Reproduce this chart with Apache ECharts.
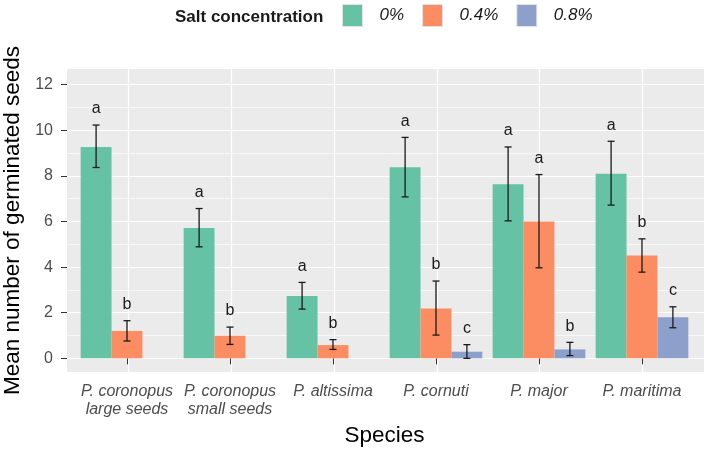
<!DOCTYPE html>
<html>
<head>
<meta charset="utf-8">
<title>Germinated seeds</title>
<script src="https://cdn.jsdelivr.net/npm/echarts@6/dist/echarts.min.js"></script>
<style>
  html, body { margin: 0; padding: 0; background: #fff; }
  #chart { width: 709px; height: 452px; }
</style>
</head>
<body>
<div id="chart"></div>
<script>
// data
var species = ['P. coronopus\nlarge seeds', 'P. coronopus\nsmall seeds', 'P. altissima', 'P. cornuti', 'P. major', 'P. maritima'];
var groups = ['0%', '0.4%', '0.8%'];
var colors = ['#66c2a5', '#fc8d62', '#8da0cb'];

var mean0 = [9.27, 5.72, 2.73, 8.38, 7.63, 8.10];
var mean4 = [1.20, 0.99, 0.58, 2.19, 6.00, 4.51];
var mean8 = [null, null, null, 0.29, 0.39, 1.80];

var low0 = [8.37, 4.89, 2.16, 7.08, 6.03, 6.72];
var high0 = [10.23, 6.57, 3.33, 9.69, 9.27, 9.52];
var low4 = [0.76, 0.61, 0.39, 1.02, 3.97, 3.78];
var high4 = [1.65, 1.37, 0.82, 3.39, 8.06, 5.24];
var low8 = [null, null, null, 0.00, 0.12, 1.34];
var high8 = [null, null, null, 0.60, 0.70, 2.26];

var letters0 = ['a', 'a', 'a', 'a', 'a', 'a'];
var letters4 = ['b', 'b', 'b', 'b', 'a', 'b'];
var letters8 = ['', '', '', 'c', 'b', 'c'];

var yTicks = [0, 2, 4, 6, 8, 10, 12];
var yMinor = [1, 3, 5, 7, 9, 11];
var xCenters = [1, 2, 3, 4, 5, 6];

var font = '"Liberation Sans", Arial, sans-serif';

function barSeries(k, vals) {
    return {
        name: groups[k],
        type: 'bar',
        xAxisIndex: 1,
        yAxisIndex: 2,
        barGap: '0%',
        barCategoryGap: '10%',
        itemStyle: { color: colors[k] },
        data: vals.map(function (v) { return v == null ? '-' : v; })
    };
}

function errorSeries(k, low, high, letters) {
    var items = [];
    for (var i = 0; i < low.length; i++) {
        if (high[i] != null) items.push([i, low[i], high[i]]);
    }
    return {
        type: 'custom',
        xAxisIndex: 1,
        yAxisIndex: 2,
        z: 10,
        silent: true,
        encode: { x: 0, y: [1, 2] },
        data: items,
        renderItem: function (params, api) {
            var i = api.value(0);
            var lo = api.coord([i, api.value(1)]);
            var hi = api.coord([i, api.value(2)]);
            var band = api.size([1, 0])[0];
            var bw = band * 0.9 / 3;
            var x = lo[0] + (k - 1) * bw;
            var cap = 3.5;
            var st = { stroke: '#1a1a1a', lineWidth: 1.3 };
            return {
                type: 'group',
                children: [
                    { type: 'line', shape: { x1: x, y1: lo[1], x2: x, y2: hi[1] }, style: st },
                    { type: 'line', shape: { x1: x - cap, y1: lo[1], x2: x + cap, y2: lo[1] }, style: st },
                    { type: 'line', shape: { x1: x - cap, y1: hi[1], x2: x + cap, y2: hi[1] }, style: st },
                    { type: 'text', style: { text: letters[i], x: x, y: hi[1] - 16, align: 'center', verticalAlign: 'middle',
                        fill: '#1a1a1a', font: '16px ' + font } }
                ]
            };
        }
    };
}

var chart = echarts.init(document.getElementById('chart'));

var option = {
    backgroundColor: '#ffffff',
    animation: false,
    textStyle: { fontFamily: font },
    title: {
        text: 'Salt concentration',
        left: 170,
        top: 4,
        textStyle: { fontSize: 17, fontWeight: 'bold', color: '#1a1a1a', fontFamily: font }
    },
    legend: {
        data: groups,
        left: 337,
        top: -1,
        icon: 'rect',
        itemWidth: 20,
        itemHeight: 22,
        itemGap: 18,
        itemStyle: { borderColor: '#e3e3e3', borderWidth: 1 },
        textStyle: { fontSize: 17, fontStyle: 'italic', color: '#1a1a1a', padding: [0, 0, 0, 12], fontFamily: font }
    },
    grid: [
        { left: 67, right: 5, top: 69, bottom: 80, show: true, backgroundColor: '#ebebeb', borderWidth: 0,
          containLabel: false, outerBoundsMode: 'none' },
        { left: 75.5, right: 15.5, top: 69, bottom: 80, containLabel: false, outerBoundsMode: 'none' }
    ],
    xAxis: [
        {
            gridIndex: 0, type: 'value', min: 0.4, max: 6.6,
            axisLine: { show: false },
            axisLabel: { show: false },
            axisTick: { show: false, customValues: xCenters },
            splitLine: { show: true, lineStyle: { color: '#ffffff', width: 1.2 } }
        },
        {
            gridIndex: 1, type: 'category', data: species,
            axisLine: { show: false },
            axisTick: { show: true, alignWithLabel: true, length: 6, lineStyle: { color: '#333333', width: 1 } },
            axisLabel: { fontSize: 16, fontStyle: 'italic', color: '#4d4d4d', lineHeight: 18, margin: 11, interval: 0 },
            splitLine: { show: false },
            name: 'Species',
            nameLocation: 'middle',
            nameGap: 52,
            nameTextStyle: { fontSize: 22.5, color: '#000000' }
        }
    ],
    yAxis: [
        {
            gridIndex: 0, type: 'value', min: -0.6, max: 12.69,
            axisLine: { show: false },
            axisTick: { show: true, length: 6, customValues: yTicks, lineStyle: { color: '#333333' } },
            axisLabel: { customValues: yTicks, fontSize: 16, color: '#4d4d4d', margin: 14 },
            splitLine: { show: true, lineStyle: { color: '#ffffff', width: 1.2 } },
            name: 'Mean number of germinated seeds',
            nameLocation: 'middle',
            nameRotate: 90,
            nameGap: 35,
            nameTextStyle: { fontSize: 22.5, color: '#000000' }
        },
        {
            gridIndex: 0, type: 'value', min: -0.6, max: 12.69, position: 'left',
            axisLine: { show: false },
            axisLabel: { show: false },
            axisTick: { show: false, customValues: yMinor },
            splitLine: { show: true, lineStyle: { color: '#ffffff', width: 0.6 } }
        },
        {
            gridIndex: 1, type: 'value', min: -0.6, max: 12.69, show: false
        }
    ],
    series: [
        barSeries(0, mean0),
        barSeries(1, mean4),
        barSeries(2, mean8),
        errorSeries(0, low0, high0, letters0),
        errorSeries(1, low4, high4, letters4),
        errorSeries(2, low8, high8, letters8)
    ]
};

chart.setOption(option);
</script>
</body>
</html>
